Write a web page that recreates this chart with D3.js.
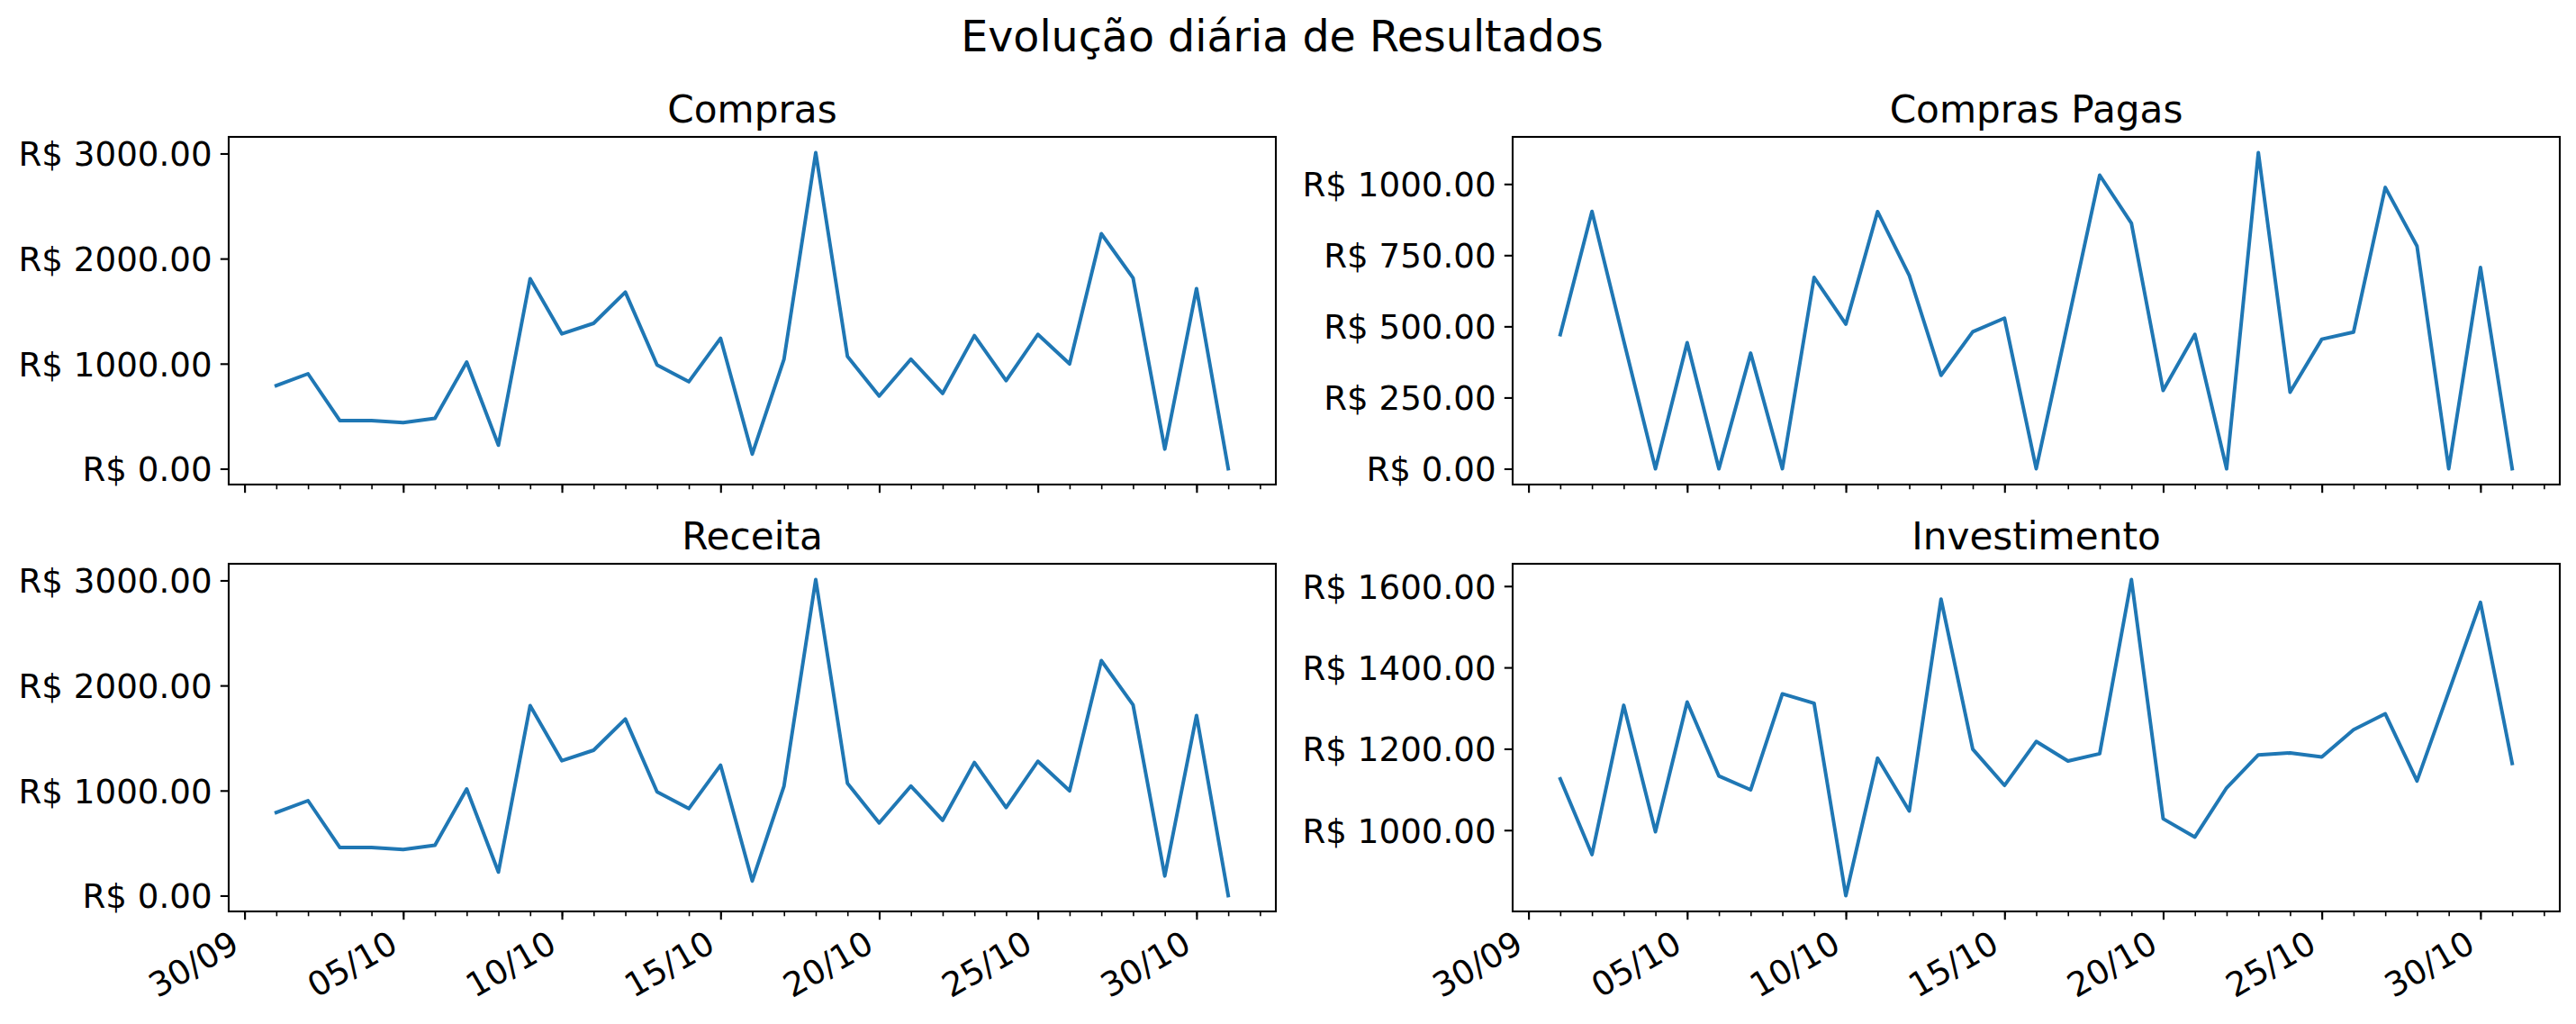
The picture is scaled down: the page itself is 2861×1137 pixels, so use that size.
<!DOCTYPE html>
<html>
<head>
<meta charset="utf-8">
<script src="https://cdn.jsdelivr.net/npm/d3@7"></script>
<style>
  body { margin: 0; background: #fff; }
  svg { display: block; font-family: "DejaVu Sans", sans-serif; }
</style>
</head>
<body>
<figure id="resultados" style="margin:0"></figure>
<script>
// dias do mês (eixo x)
const dias = [
  "2023-10-01", "2023-10-02", "2023-10-03", "2023-10-04", "2023-10-05", "2023-10-06", "2023-10-07",
  "2023-10-08", "2023-10-09", "2023-10-10", "2023-10-11", "2023-10-12", "2023-10-13", "2023-10-14",
  "2023-10-15", "2023-10-16", "2023-10-17", "2023-10-18", "2023-10-19", "2023-10-20", "2023-10-21",
  "2023-10-22", "2023-10-23", "2023-10-24", "2023-10-25", "2023-10-26", "2023-10-27", "2023-10-28",
  "2023-10-29", "2023-10-30", "2023-10-31"
];
const xTickLabels = ["30/09", "05/10", "10/10", "15/10", "20/10", "25/10", "30/10"];

const compras = [791, 904, 459, 459, 439, 479, 1015, 224, 1809, 1284, 1384, 1681, 987, 828, 1242, 139,
  1043, 3008, 1069, 692, 1043, 717, 1267, 839, 1279, 998, 2237, 1815, 187, 1715, 0];
const comprasPagas = [471, 904, 450, 0, 443, 0, 406, 0, 672, 508, 903, 679, 328, 481, 529, 0,
  515, 1031, 862, 275, 472, 0, 1110, 269, 455, 480, 988, 782, 0, 707, 0];
const receita = [791, 904, 459, 459, 439, 479, 1015, 224, 1809, 1284, 1384, 1681, 987, 828, 1242, 139,
  1043, 3008, 1069, 692, 1043, 717, 1267, 839, 1279, 998, 2237, 1815, 187, 1715, 0];
const investimento = [1126, 940, 1307, 996, 1315, 1133, 1099, 1335, 1312, 839, 1177, 1047, 1568, 1199, 1110, 1218,
  1170, 1188, 1616, 1028, 983, 1104, 1185, 1190, 1180, 1247, 1286, 1121, 1340, 1560, 1164];

const comprasTicks = [0, 1000, 2000, 3000];
const comprasPagasTicks = [0, 250, 500, 750, 1000];
const receitaTicks = [0, 1000, 2000, 3000];
const investimentoTicks = [1000, 1200, 1400, 1600];

const W = 2861, H = 1137;
const lineColor = "#1f77b4";
const tickFont = 37.2;
const titleFont = 42.2;
const majorLen = 9.2, minorLen = 5.3, tickPad = 9.2;

const parseDay = d3.utcParse("%Y-%m-%d");
const dates = dias.map(parseDay);
const majorDates = xTickLabels.map(s => d3.utcParse("%d/%m/%Y")(s + "/2023"));

const svg = d3.select("figure#resultados").append("svg")
  .attr("width", W)
  .attr("height", H)
  .attr("viewBox", `0 0 ${W} ${H}`);

svg.append("rect").attr("width", W).attr("height", H).attr("fill", "#fff");

svg.append("text")
  .attr("x", 1424)
  .attr("y", 57)
  .attr("text-anchor", "middle")
  .attr("font-size", 47.5)
  .text("Evolução diária de Resultados");

// x domain with matplotlib 5% margins
const xExt = d3.extent(dates);
const xPad = (xExt[1] - xExt[0]) * 0.05;
const xDomain = [new Date(+xExt[0] - xPad), new Date(+xExt[1] + xPad)];

const panels = [
  { title: "Compras", values: compras, ticks: comprasTicks, left: 254, top: 152, labels: false },
  { title: "Compras Pagas", values: comprasPagas, ticks: comprasPagasTicks, left: 1680, top: 152, labels: false },
  { title: "Receita", values: receita, ticks: receitaTicks, left: 254, top: 626, labels: true },
  { title: "Investimento", values: investimento, ticks: investimentoTicks, left: 1680, top: 626, labels: true }
];
const pw = 1163, ph = 386;

panels.forEach(p => drawPanel(p));

function drawPanel(p) {
  const g = svg.append("g")
    .attr("transform", "translate(" + p.left + "," + p.top + ")");

  const xScale = d3.scaleUtc().domain(xDomain).range([0, pw]);
  const yExt = d3.extent(p.values);
  const yPad = (yExt[1] - yExt[0]) * 0.05;
  const yScale = d3.scaleLinear()
    .domain([yExt[0] - yPad, yExt[1] + yPad])
    .range([ph, 0]);

  // line
  const line = d3.line()
    .x((d, i) => xScale(dates[i]))
    .y(d => yScale(d));
  g.append("path")
    .datum(p.values)
    .attr("d", line)
    .attr("fill", "none")
    .attr("stroke", lineColor)
    .attr("stroke-width", 3.96)
    .attr("stroke-linejoin", "round")
    .attr("stroke-linecap", "square");

  // y axis
  const yAxis = g.append("g")
    .call(d3.axisLeft(yScale)
      .tickValues(p.ticks)
      .tickSize(majorLen)
      .tickPadding(tickPad)
      .tickFormat(d => "R$ " + d.toFixed(2)));
  yAxis.select(".domain").remove();
  yAxis.selectAll(".tick line").attr("stroke", "#000").attr("stroke-width", 2.1);
  yAxis.selectAll(".tick text")
    .attr("fill", "#000")
    .attr("font-size", tickFont)
    .attr("font-family", "DejaVu Sans")
    .attr("dy", "0.36em");

  // x minor ticks (daily)
  const minorDays = d3.utcDay.range(d3.utcDay.ceil(xDomain[0]), xDomain[1]);
  const xMinor = g.append("g")
    .attr("transform", "translate(0," + ph + ")")
    .call(d3.axisBottom(xScale).tickValues(minorDays).tickSize(minorLen).tickFormat(""));
  xMinor.select(".domain").remove();
  xMinor.selectAll(".tick line").attr("stroke", "#000").attr("stroke-width", 1.6);

  // x major ticks
  const xMajor = g.append("g")
    .attr("transform", "translate(0," + ph + ")")
    .call(d3.axisBottom(xScale)
      .tickValues(majorDates)
      .tickSize(majorLen)
      .tickFormat((d, i) => p.labels ? xTickLabels[i] : ""));
  xMajor.select(".domain").remove();
  xMajor.selectAll(".tick line").attr("stroke", "#000").attr("stroke-width", 2.1);
  xMajor.selectAll(".tick text")
    .attr("fill", "#000")
    .attr("font-size", tickFont)
    .attr("font-family", "DejaVu Sans")
    .attr("text-anchor", "end")
    .attr("x", 0)
    .attr("y", 0)
    .attr("dy", null)
    .attr("transform", "translate(" + (-0.118 * tickFont) + "," + (majorLen + tickPad + 0.658 * tickFont) + ") rotate(-30)");

  // frame
  g.append("rect")
    .attr("width", pw)
    .attr("height", ph)
    .attr("fill", "none")
    .attr("stroke", "#000")
    .attr("stroke-width", 2.1);

  // title
  g.append("text")
    .attr("x", pw / 2)
    .attr("y", -16)
    .attr("text-anchor", "middle")
    .attr("font-size", titleFont)
    .text(p.title);
}
</script>
</body>
</html>
